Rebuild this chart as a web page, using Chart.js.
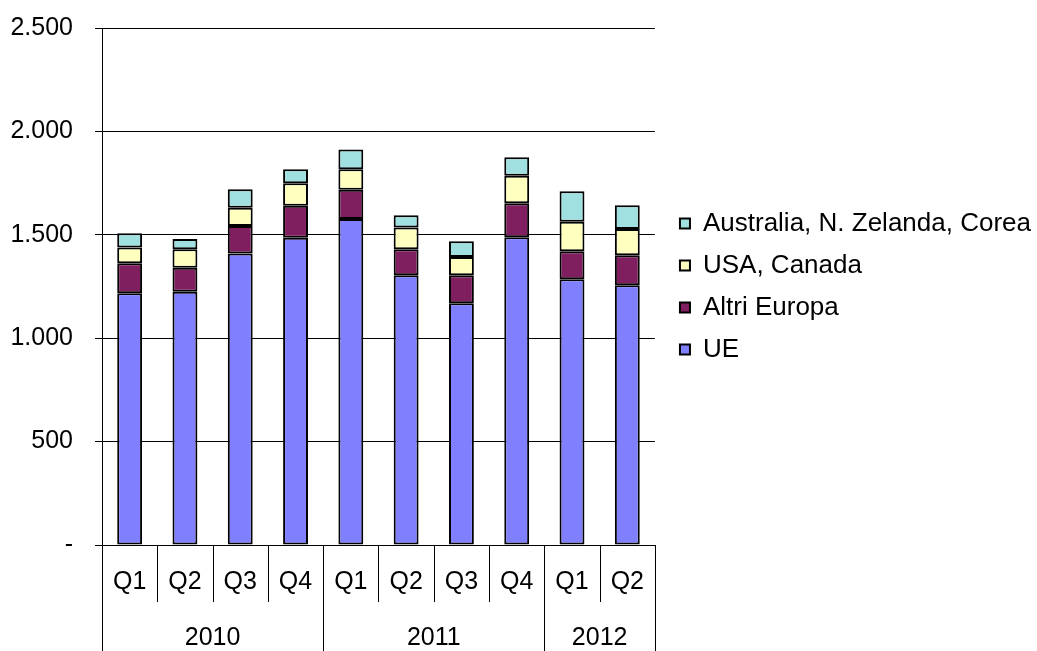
<!DOCTYPE html>
<html>
<head>
<meta charset="utf-8">
<script src="https://cdn.jsdelivr.net/npm/chart.js@4.4.0/dist/chart.umd.min.js"></script>
<style>
  html, body { margin: 0; padding: 0; background: #fff; }
  #wrap { width: 1037px; height: 651px; }
</style>
</head>
<body>
<div id="wrap"><canvas id="chart" width="1037" height="651"></canvas></div>
<script>
// --- Dati ---
const trimestri = ['Q1', 'Q2', 'Q3', 'Q4', 'Q1', 'Q2', 'Q3', 'Q4', 'Q1', 'Q2'];
const anni = [
    { label: '2010', from: 0, to: 3 },
    { label: '2011', from: 4, to: 7 },
    { label: '2012', from: 8, to: 9 }
];
const ue          = [1217, 1225, 1409, 1486, 1577, 1304, 1169, 1488, 1285, 1256];
const altriEuropa = [145, 116, 134, 155, 141, 126, 135, 164, 135, 145];
const usaCanada   = [76, 89, 88, 108, 99, 105, 89, 134, 143, 127];
const ausNzCorea  = [69, 50, 89, 68, 96, 59, 76, 89, 147, 115];
const yTicks      = [0, 500, 1000, 1500, 2000, 2500];

const FONT = 'Liberation Sans, Arial, sans-serif';
const FONT_SIZE = 25;

// Formato italiano: punto come separatore delle migliaia, zero come trattino
function formatIt(v) {
    if (v === 0) return '-';
    return String(v).replace(/\B(?=(\d{3})+(?!\d))/g, '.');
}

// Etichette dell'asse X su due livelli (trimestre / anno) con i separatori
const assePerAnni = {
    id: 'assePerAnni',
    afterDraw(chart) {
        const { ctx, chartArea } = chart;
        const x = chart.scales.x;
        const n = trimestri.length;
        const step = x.getPixelForValue(1) - x.getPixelForValue(0);
        const edge = i => x.getPixelForValue(i) - step / 2;
        const base = chartArea.bottom;
        const qBottom = base + 57;
        const yBottom = chart.height;

        ctx.save();
        ctx.strokeStyle = '#000';
        ctx.lineWidth = 1;
        ctx.beginPath();
        // separatori tra i trimestri
        for (let i = 0; i <= n; i++) {
            const px = Math.round(edge(i)) + 0.5;
            ctx.moveTo(px, base);
            ctx.lineTo(px, qBottom);
        }
        // separatori tra gli anni (fino in fondo)
        anni.forEach(a => {
            [a.from, a.to + 1].forEach(i => {
                const px = Math.round(edge(i)) + 0.5;
                ctx.moveTo(px, qBottom);
                ctx.lineTo(px, yBottom);
            });
        });
        ctx.stroke();

        ctx.fillStyle = '#000';
        ctx.font = `${FONT_SIZE}px ${FONT}`;
        ctx.textAlign = 'center';
        ctx.textBaseline = 'middle';
        trimestri.forEach((q, i) => {
            ctx.fillText(q, x.getPixelForValue(i), base + 37);
        });
        anni.forEach(a => {
            const cx = (edge(a.from) + edge(a.to + 1)) / 2;
            ctx.fillText(a.label, cx, base + 93);
        });
        ctx.restore();
    }
};

// Sposta un po' la legenda verso destra, staccandola dall'area del grafico
const spostaLegenda = {
    id: 'spostaLegenda',
    afterLayout(chart) {
        const lg = chart.legend;
        if (lg) {
            lg.left += 9;
            lg.right += 9;
        }
    }
};

function serie(label, data, colore) {
    return {
        label,
        data,
        backgroundColor: colore,
        borderColor: '#000',
        borderWidth: 2,
        borderSkipped: false,
        categoryPercentage: 1,
        barPercentage: 0.45
    };
}

new Chart(document.getElementById('chart'), {
    type: 'bar',
    data: {
        labels: trimestri,
        datasets: [
            serie('UE', ue, '#8080ff'),
            serie('Altri Europa', altriEuropa, '#7f1f5f'),
            serie('USA, Canada', usaCanada, '#ffffc0'),
            serie('Australia, N. Zelanda, Corea', ausNzCorea, '#a0e0e0')
        ]
    },
    options: {
        responsive: false,
        animation: false,
        layout: {
            padding: { top: 28, bottom: 106, left: 10, right: 5 }
        },
        plugins: {
            legend: {
                position: 'right',
                reverse: true,
                maxWidth: 420,
                labels: {
                    color: '#000',
                    font: { family: FONT, size: 26 },
                    boxWidth: 10,
                    boxHeight: 10,
                    padding: 16
                }
            },
            tooltip: { enabled: false }
        },
        scales: {
            x: {
                stacked: true,
                grid: { display: false },
                ticks: { display: false },
                border: { display: true, color: '#000', width: 1 },
                afterFit: axis => {
                    axis.height = 0;
                    axis.paddingLeft = 0;
                    axis.paddingRight = 0;
                }
            },
            y: {
                stacked: true,
                min: 0,
                max: 2500,
                afterBuildTicks: axis => {
                    axis.ticks = yTicks.map(v => ({ value: v }));
                },
                afterFit: axis => {
                    axis.width = 92;
                    axis.paddingTop = 0;
                    axis.paddingBottom = 0;
                },
                ticks: {
                    color: '#000',
                    padding: 22,
                    font: { family: FONT, size: FONT_SIZE },
                    callback: v => formatIt(v)
                },
                grid: {
                    color: '#000',
                    lineWidth: 1,
                    tickLength: 7,
                    drawTicks: true
                },
                border: { display: true, color: '#000', width: 1 }
            }
        }
    },
    plugins: [assePerAnni, spostaLegenda]
});
</script>
</body>
</html>
